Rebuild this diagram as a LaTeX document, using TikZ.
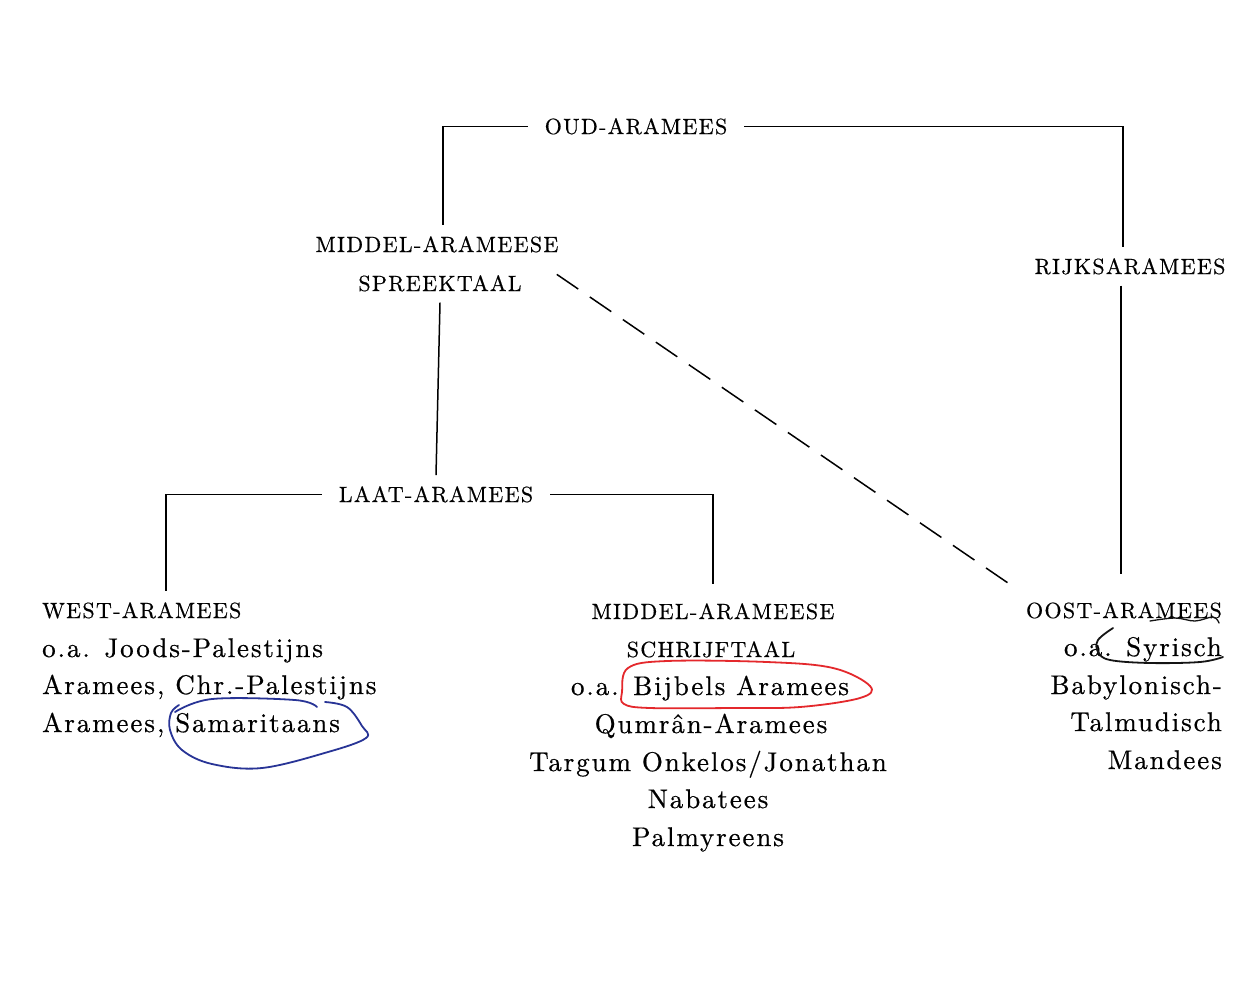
\documentclass[tikz,border=0pt]{standalone}
\usepackage{fontspec}
\setmainfont{lmroman10-regular.otf}
\newfontfamily\capsfont[LetterSpace=6,FakeBold=0.5]{lmroman10-regular.otf}
\newfontfamily\bodyfont[LetterSpace=7,FakeBold=0.5]{lmroman10-regular.otf}
\definecolor{blueink}{RGB}{40,52,150}
\definecolor{redink}{RGB}{228,40,44}
\definecolor{blackink}{RGB}{20,20,20}
\begin{document}
\begin{tikzpicture}[x=1pt,y=-1pt,
  caps/.style={font=\capsfont\fontsize{22}{26}\selectfont, inner xsep=17pt, inner ysep=11pt},
  body/.style={font=\bodyfont\fontsize{27}{34}\selectfont, inner sep=0pt},
  conn/.style={line width=1.5pt},
  dashline/.style={line width=1.5pt, dash pattern=on 26pt off 14pt},
  ink/.style={line width=1.8pt, line cap=round, line join=round}]
\useasboundingbox (0,0) rectangle (1236,991);
\fill[white] (0,0) rectangle (1236,991);

% top level
\node[caps, anchor=base] (oud) at (636,134) {OUD-ARAMEES};
\node[caps, anchor=base] (msp1) at (437,252) {MIDDEL-ARAMEESE};
\node[caps, anchor=base] (msp2) at (440,291) {SPREEKTAAL};
\node[caps, anchor=base] (rijk) at (1130,274) {RIJKSARAMEES};
\node[caps, anchor=base] (laat) at (436,502) {LAAT-ARAMEES};

% west
\node[caps, anchor=base west, inner xsep=0pt] (west) at (42,618) {WEST-ARAMEES};
\node[body, anchor=base west] (w1) at (42,657) {o.a. Joods-Palestijns};
\node[body, anchor=base west] (w2) at (42,694) {Aramees, Chr.-Palestijns};
\node[body, anchor=base west] (w3) at (42,732) {Aramees, Samaritaans};

% middle
\node[caps, anchor=base] (mas1) at (713,619) {MIDDEL-ARAMEESE};
\node[caps, anchor=base] (mas2) at (711,657) {SCHRIJFTAAL};
\node[body, anchor=base] (m1) at (710,695) {o.a. Bijbels Aramees};
\node[body, anchor=base] (m2) at (711,733) {Qumrân-Aramees};
\node[body, anchor=base] (m3) at (708,771) {Targum Onkelos/Jonathan};
\node[body, anchor=base] (m4) at (708,808) {Nabatees};
\node[body, anchor=base] (m5) at (708,846) {Palmyreens};

% east
\node[caps, anchor=base east, inner xsep=0pt] (oost) at (1222,618) {OOST-ARAMEES};
\node[body, anchor=base east] (e1) at (1222,656) {o.a. Syrisch};
\node[body, anchor=base east] (e2) at (1222,694) {Babylonisch-};
\node[body, anchor=base east] (e3) at (1222,731) {Talmudisch};
\node[body, anchor=base east] (e4) at (1222,769) {Mandees};

% connectors
\draw[conn] (oud.west) -| ([xshift=6pt]msp1.north);
\draw[conn] (oud.east) -| ([xshift=-7pt]rijk.north);
\draw[conn, shorten >=17pt] ([xshift=-9pt]rijk.south) -- ([xshift=-9pt]rijk.south |- oost.north);
\draw[conn] (msp2.south) -- (laat.north);
\draw[conn] (laat.west) -| ([xshift=124pt]west.north west);
\draw[conn, shorten >=8pt] (laat.east) -| (mas1.north);
\draw[dashline] ([xshift=18pt,yshift=9pt]msp2.east) -- ([xshift=-9pt,yshift=2pt]oost.north west);

% hand annotations
\begin{scope}[xshift=-5pt]
\draw[ink, blueink] plot[smooth, tension=0.6] coordinates {(180,712) (217,699) (300,700) (322,707)};
\draw[ink, blueink] plot[smooth, tension=0.6] coordinates {(330,702) (352,707) (367,726) (371,738) (333,752) (267,768) (217,764) (187,750) (175,730) (176,713) (184,705)};
\end{scope}
\draw[ink, redink] plot[smooth cycle, tension=0.6] coordinates {(622,692) (628,668) (667,661) (767,662) (833,668) (870,686) (860,698) (800,707) (733,708) (650,708) (624,704)};
\draw[ink, blackink] plot[smooth, tension=0.6] coordinates {(1113,628) (1098,640) (1098,652) (1110,660) (1150,663) (1200,662) (1223,657)};
\draw[ink, blackink, line width=1.3pt] plot[smooth, tension=0.6] coordinates {(1150,621) (1175,618) (1195,621) (1213,617) (1219,623)};
\end{tikzpicture}
\end{document}
